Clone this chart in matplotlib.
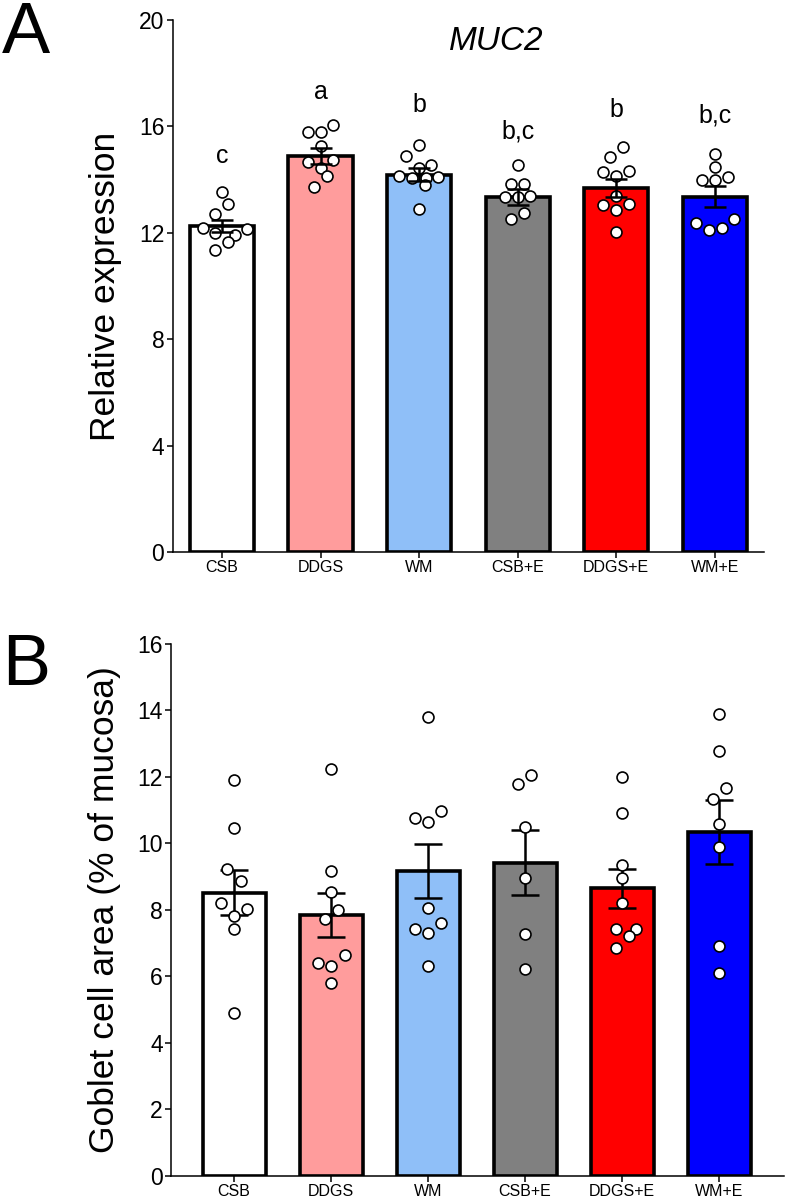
import matplotlib
matplotlib.use('Agg')
import matplotlib.pyplot as plt

plt.rcParams['font.family'] = ['Liberation Sans', 'DejaVu Sans']

groups = ['CSB', 'DDGS', 'WM', 'CSB+E', 'DDGS+E', 'WM+E']
colors = ['#FFFFFF', '#FF9C9C', '#8FBFF8', '#808080', '#FF0000', '#0000FF']

# panel A: MUC2 relative expression
muc2_mean = [12.26, 14.9, 14.19, 13.36, 13.7, 13.36]
muc2_sem = [0.22, 0.3, 0.26, 0.3, 0.34, 0.39]
muc2_letters = ['c', 'a', 'b', 'b,c', 'b', 'b,c']
muc2_letter_y = [14.9, 17.3, 16.8, 15.8, 16.6, 16.4]
muc2_points = [
    [13.52, 13.08, 12.7, 12.2, 12.15, 12.01, 11.92, 11.65, 11.37],
    [15.8, 15.8, 16.04, 15.26, 14.67, 14.73, 14.44, 14.15, 13.72],
    [15.32, 14.9, 14.44, 14.54, 14.15, 14.06, 14.06, 14.1, 13.81, 12.9],
    [14.54, 13.85, 13.85, 13.35, 13.35, 13.37, 12.53, 12.74],
    [15.22, 14.85, 14.28, 14.15, 14.34, 13.37, 13.06, 13.09, 12.87, 12.03],
    [14.98, 14.47, 13.97, 13.97, 14.1, 12.37, 12.11, 12.18, 12.52],
]
muc2_jitter = [
    [0, 0.06, -0.07, -0.19, 0.25, -0.07, 0.13, 0.06, -0.07],
    [-0.125, 0, 0.13, 0, -0.125, 0.13, 0, 0.07, -0.07],
    [0, -0.135, 0, 0.125, -0.2, -0.07, 0.07, 0.19, 0.06, 0],
    [0, -0.07, 0.065, -0.13, 0, 0.125, -0.07, 0.065],
    [0.07, -0.06, -0.13, 0, 0.13, 0, -0.13, 0.13, 0, 0],
    [0, 0, -0.13, 0, 0.13, -0.19, -0.06, 0.07, 0.2],
]

# panel B: goblet cell area
gob_mean = [8.52, 7.85, 9.17, 9.42, 8.65, 10.34]
gob_sem = [0.665, 0.67, 0.81, 0.975, 0.59, 0.965]
gob_points = [
    [11.9, 10.47, 9.22, 8.86, 8.22, 8.04, 7.82, 7.41, 4.9],
    [12.22, 9.17, 8.54, 8.01, 7.72, 6.64, 6.39, 6.32, 5.8],
    [13.8, 10.96, 10.75, 10.65, 8.07, 7.59, 7.41, 7.31, 6.32],
    [11.79, 12.06, 10.5, 8.97, 7.28, 6.23],
    [11.98, 10.91, 9.35, 8.95, 8.2, 7.42, 7.42, 7.2, 6.85],
    [13.9, 12.79, 11.66, 11.32, 10.59, 9.9, 6.9, 6.09],
]
gob_jitter = [
    [0, 0, -0.07, 0.07, -0.13, 0.13, 0, 0, 0],
    [0, 0, 0, 0.07, -0.06, 0.14, -0.13, 0, 0],
    [0, 0.13, -0.13, 0, 0, 0.13, -0.13, 0, 0],
    [-0.07, 0.065, 0, 0, 0, 0],
    [0, 0, 0, 0, 0, -0.06, 0.14, 0.07, -0.06],
    [0, 0, 0.07, -0.06, 0, 0, 0, 0],
]

fig = plt.figure(figsize=(7.86, 11.99), dpi=100)
axA = fig.add_axes([0.2197, 0.5396, 0.7523, 0.4437])
axB = fig.add_axes([0.2176, 0.0192, 0.7800, 0.4439])


def draw(ax, means, sems, points, jitter, cap, pts_on_top):
    x = list(range(len(groups)))
    ax.bar(x, means, width=0.65, color=colors, edgecolor='black', linewidth=2.6, zorder=2)
    ax.errorbar(x, means, yerr=sems, fmt='none', ecolor='black', elinewidth=1.8,
                capsize=cap, capthick=1.8, zorder=4 if not pts_on_top else 3)
    for i, (vals, jit) in enumerate(zip(points, jitter)):
        ax.scatter([i + j for j in jit], vals, s=62, facecolor='white', edgecolor='black',
                   linewidth=1.2, zorder=4 if pts_on_top else 3, clip_on=False)
    ax.spines['top'].set_visible(False)
    ax.spines['right'].set_visible(False)
    for s in ['left', 'bottom']:
        ax.spines[s].set_linewidth(1.1)
    ax.set_xticks(x)
    ax.set_xticklabels(groups, fontsize=11.5)
    ax.tick_params(axis='y', labelsize=16.5, width=1.1, length=4, pad=2)
    ax.tick_params(axis='x', width=1.1, length=4, pad=2)


draw(axA, muc2_mean, muc2_sem, muc2_points, muc2_jitter, 8, False)
axA.set_xlim(-0.5, 5.5)
axA.set_ylim(0, 20)
axA.set_yticks([0, 4, 8, 12, 16, 20])
axA.set_ylabel('Relative expression', fontsize=25.5, labelpad=12)
for i, (lab, ly) in enumerate(zip(muc2_letters, muc2_letter_y)):
    axA.text(i, ly, lab, ha='center', va='center', fontsize=18)
axA.text(0.547, 0.959, 'MUC2', transform=axA.transAxes, ha='center', va='center',
         fontsize=24, style='italic')

draw(axB, gob_mean, gob_sem, gob_points, gob_jitter, 10, True)
axB.set_xlim(-0.65, 5.67)
axB.set_ylim(0, 16)
axB.set_yticks(range(0, 17, 2))
axB.set_ylabel('Goblet cell area (% of mucosa)', fontsize=25.5, labelpad=12)

fig.text(0.003, 0.999, 'A', fontsize=52, va='top', ha='left')
fig.text(0.003, 0.472, 'B', fontsize=52, va='top', ha='left')

fig.savefig('out.png', dpi=100)
